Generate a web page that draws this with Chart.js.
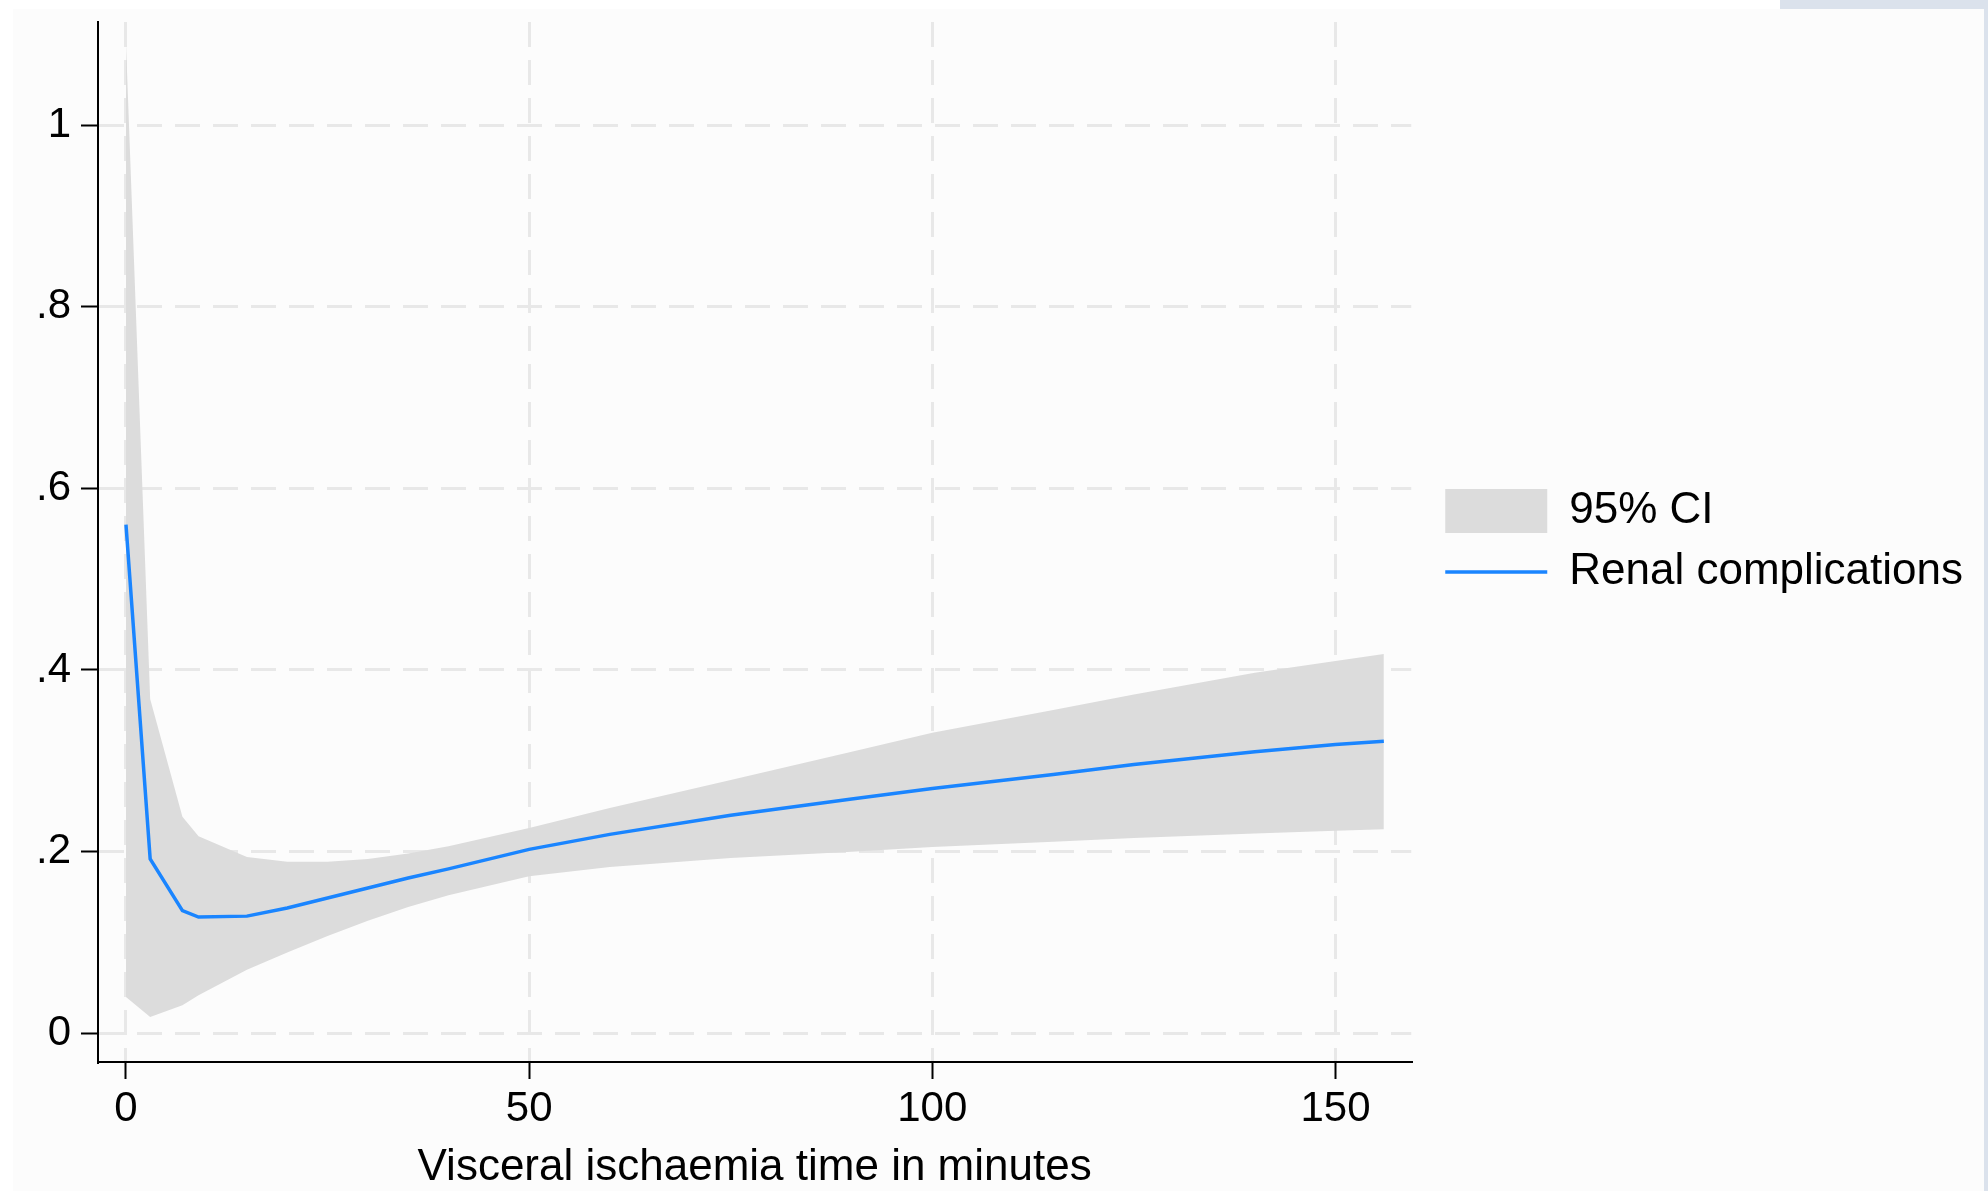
<!DOCTYPE html>
<html>
<head>
<meta charset="utf-8">
<title>Renal complications by visceral ischaemia time</title>
<script src="https://cdn.jsdelivr.net/npm/chart.js@4.4.1/dist/chart.umd.min.js"></script>
<style>
  html, body { margin: 0; padding: 0; background: #fff; }
  #wrap { position: relative; width: 1988px; height: 1191px; overflow: hidden; }
  #c { position: absolute; left: 0; top: 0; }
  .edge { position: absolute; background: #dbe2ec; }
</style>
</head>
<body>
<div id="wrap">
  <canvas id="c" width="1988" height="1191"></canvas>
  <div class="edge" style="left:1984px;top:0;width:4px;height:1191px"></div>
  <div class="edge" style="left:1780px;top:0;width:208px;height:9px"></div>
</div>
<script>
// values
const minutes = [0, 3, 7, 9, 15, 20, 25, 30, 35, 40, 50, 60, 75, 90, 100, 115, 125, 140, 150, 156];
const renal   = [0.560, 0.192, 0.135, 0.128, 0.129, 0.138, 0.149, 0.160, 0.171, 0.181, 0.2025, 0.219, 0.240, 0.258, 0.2695, 0.285, 0.296, 0.310, 0.318, 0.3215];
const ciUpper = [1.09, 0.368, 0.2385, 0.217, 0.194, 0.189, 0.189, 0.192, 0.198, 0.206, 0.226, 0.248, 0.279, 0.310, 0.331, 0.356, 0.373, 0.397, 0.410, 0.4176];
const ciLower = [0.040, 0.018, 0.031, 0.042, 0.070, 0.089, 0.107, 0.124, 0.139, 0.152, 0.173, 0.183, 0.193, 0.200, 0.205, 0.211, 0.215, 0.220, 0.223, 0.2246];

const xTicks = [0, 50, 100, 150];
const yTicks = [0, 0.2, 0.4, 0.6, 0.8, 1];
const xTitle = 'Visceral ischaemia time in minutes';
const legendNames = ['95% CI', 'Renal complications'];

const BLUE = '#1a85ff';
const BAND = '#dcdcdc';
const FONT = '"Liberation Sans", Arial, Helvetica, sans-serif';

Chart.defaults.font.family = FONT;
Chart.defaults.color = '#000';

function pts(ys) {
    return minutes.map((m, i) => ({ x: m, y: ys[i] }));
}

function yLabel(v) {
    const r = Math.round(v * 10) / 10;
    if (r === 0) return '0';
    if (r === 1) return '1';
    return String(r).replace('0.', '.');
}

// fixed axis sizes, and no extra label padding pushed into the chart area
function fixSize(w, h) {
    return s => {
        if (w) s.width = w;
        if (h) s.height = h;
        s.paddingTop = 0;
        s.paddingBottom = 0;
        s.paddingLeft = 0;
        s.paddingRight = 0;
    };
}

// light paper behind the plot
const paperBg = {
    id: 'paperBg',
    beforeDraw(chart) {
        const ctx = chart.ctx;
        ctx.save();
        ctx.fillStyle = '#fcfcfc';
        ctx.fillRect(13, 9, 1971, 1182);
        ctx.restore();
    }
};

const grid = {
    color: '#e8e8e8',
    lineWidth: 3,
    drawTicks: true,
    tickLength: 17,
    tickColor: '#000',
    tickWidth: 2,
    tickBorderDash: []
};
const border = { display: true, color: '#000', width: 2, dash: [25, 13] };

new Chart(document.getElementById('c'), {
    type: 'line',
    data: {
        datasets: [{
            label: legendNames[1],
            data: pts(renal),
            borderColor: BLUE,
            borderWidth: 3.5,
            pointRadius: 0,
            tension: 0,
            fill: false
        }, {
            label: 'upper',
            data: pts(ciUpper),
            borderWidth: 0,
            borderColor: BAND,
            backgroundColor: BAND,
            pointRadius: 0,
            tension: 0,
            fill: '+1'
        }, {
            label: 'lower',
            data: pts(ciLower),
            borderWidth: 0,
            borderColor: BAND,
            pointRadius: 0,
            tension: 0,
            fill: false
        }]
    },
    options: {
        responsive: false,
        animation: false,
        events: [],
        layout: { padding: { top: 22, right: 15, bottom: 0, left: 0 } },
        scales: {
            x: {
                type: 'linear',
                min: -3.47,
                max: 159.4,
                grid: grid,
                border: border,
                afterBuildTicks: s => { s.ticks = xTicks.map(v => ({ value: v })); },
                afterFit: fixSize(0, 129),
                ticks: { font: { size: 42 }, padding: 5, maxRotation: 0 },
                title: {
                    display: true,
                    text: xTitle,
                    font: { size: 44, lineHeight: 1 },
                    padding: { top: 0, bottom: 1 }
                }
            },
            y: {
                type: 'linear',
                min: -0.0316,
                max: 1.1134,
                grid: grid,
                border: border,
                afterBuildTicks: s => { s.ticks = yTicks.map(v => ({ value: v })); },
                afterFit: fixSize(98, 0),
                ticks: { font: { size: 42 }, padding: 10, callback: yLabel }
            },
            y2: {
                position: 'right',
                display: true,
                grid: { display: false, drawTicks: false },
                border: { display: false },
                ticks: { display: false },
                afterFit: fixSize(17, 0)
            }
        },
        plugins: {
            tooltip: { enabled: false },
            legend: {
                position: 'right',
                align: 'start',
                maxWidth: 700,
                title: { display: true, text: '', font: { size: 1, lineHeight: 1 }, padding: { top: 449, bottom: 0 } },
                labels: {
                    font: { size: 44 },
                    color: '#000',
                    padding: 17,
                    boxHeight: 44,
                    usePointStyle: true,
                    pointStyleWidth: 102,
                    generateLabels: () => [
                        { text: legendNames[0], fillStyle: BAND, strokeStyle: BAND, lineWidth: 0, pointStyle: 'rect', datasetIndex: 1 },
                        { text: legendNames[1], fillStyle: BLUE, strokeStyle: BLUE, lineWidth: 3.5, pointStyle: 'line', datasetIndex: 0 }
                    ]
                }
            }
        }
    },
    plugins: [paperBg]
});
</script>
</body>
</html>
